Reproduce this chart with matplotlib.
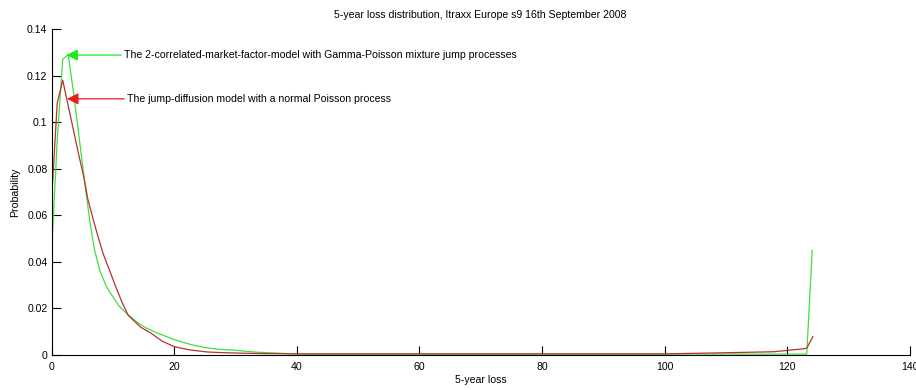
import matplotlib.pyplot as plt
from matplotlib.ticker import FuncFormatter

plt.rcParams["font.family"] = ["Liberation Sans", "DejaVu Sans"]
plt.rcParams["font.size"] = 7.6

# loss distribution, 2-factor model with Gamma-Poisson mixture jumps
loss_gp = [0, 0.9, 1.8, 2.7, 3.6, 4.5, 5.4, 6.3, 7.0, 7.9, 9.0, 10.0, 11.0,
           12.5, 14.0, 15.5, 17.3, 20.0, 22.7, 25.0, 27.5, 29.7, 33.5, 36.2,
           40.0, 60.0, 80.0, 100.0, 120.0, 123.2, 124.1]
prob_gp = [0.045, 0.092, 0.127, 0.129, 0.112, 0.093, 0.074, 0.056, 0.045,
           0.036, 0.029, 0.025, 0.021, 0.0172, 0.0140, 0.0115, 0.0094, 0.0066,
           0.0045, 0.0032, 0.0024, 0.0021, 0.0012, 0.0009,
           0.0004, 0.0004, 0.0004, 0.0004, 0.0004, 0.0004, 0.045]

# loss distribution, jump-diffusion with plain Poisson jumps
loss_jd = [0, 0.9, 1.8, 2.7, 3.6, 4.5, 5.2, 5.9, 6.8, 7.6, 8.4, 9.5, 10.5,
           11.5, 12.5, 14.5, 16.2, 18.0, 20.0, 22.5, 25.4, 28.0, 30.8, 35.0,
           40.0, 60.0, 80.0, 100.0, 108.5, 117.8, 122.4, 123.2, 124.2]
prob_jd = [0.067, 0.108, 0.118, 0.107, 0.096, 0.085, 0.077, 0.067, 0.058,
           0.0505, 0.0435, 0.036, 0.029, 0.0225, 0.017, 0.0120, 0.0094, 0.0060,
           0.0036, 0.0022, 0.0013, 0.0010, 0.0008, 0.0006,
           0.0005, 0.0005, 0.0005, 0.0005, 0.0009, 0.0014, 0.0026, 0.0029, 0.0079]

label_gp = "The 2-correlated-market-factor-model with Gamma-Poisson mixture jump processes"
label_jd = "The jump-diffusion model with a normal Poisson process"

fig = plt.figure(figsize=(9.16, 3.9), dpi=100)
ax = fig.add_axes([0.0564, 0.0897, 0.9367, 0.836])

ax.plot(loss_gp, prob_gp, color="#3ee03e", lw=0.9)
ax.plot(loss_jd, prob_jd, color="#b83232", lw=0.9)

ax.annotate(label_gp, xy=(2.4, 0.1288), xytext=(11.8, 0.1288),
            va="center", ha="left",
            arrowprops=dict(arrowstyle="-|>,head_length=0.9,head_width=0.45",
                            color="#1ee81e", lw=0.9, shrinkA=0, shrinkB=0))
ax.annotate(label_jd, xy=(2.5, 0.110), xytext=(12.3, 0.110),
            va="center", ha="left",
            arrowprops=dict(arrowstyle="-|>,head_length=0.9,head_width=0.45",
                            color="#ee1c1c", lw=0.9, shrinkA=0, shrinkB=0))

ax.set_xlim(0, 140)
ax.set_ylim(0, 0.14)
ax.set_xticks(range(0, 141, 20))
ax.set_yticks([0, 0.02, 0.04, 0.06, 0.08, 0.1, 0.12, 0.14])
ax.yaxis.set_major_formatter(FuncFormatter(lambda v, p: "%g" % round(v, 4)))

for side in ("top", "right"):
    ax.spines[side].set_visible(False)
ax.tick_params(direction="in", length=6.2, width=0.8, colors="black")
ax.tick_params(axis="y", pad=3)
ax.tick_params(axis="x", pad=5)

ax.set_title("5-year loss distribution, Itraxx Europe s9 16th September 2008",
             fontsize=7.6, pad=8)
ax.set_xlabel("5-year loss", labelpad=2)
ax.set_ylabel("Probability", labelpad=5)

fig.savefig("out.png", dpi=100)
